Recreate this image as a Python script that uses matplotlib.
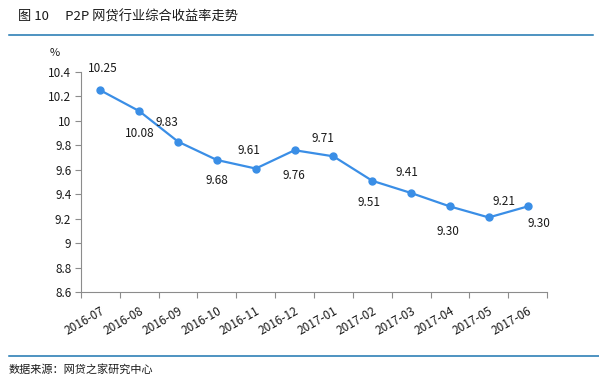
import matplotlib
matplotlib.use("Agg")
import matplotlib.pyplot as plt
from matplotlib.lines import Line2D
import numpy as np

plt.rcParams['font.family'] = ['Noto Sans CJK SC', 'DejaVu Sans']

# data
months = ['2016-07', '2016-08', '2016-09', '2016-10', '2016-11', '2016-12',
          '2017-01', '2017-02', '2017-03', '2017-04', '2017-05', '2017-06']
rates = [10.25, 10.08, 9.83, 9.68, 9.61, 9.76, 9.71, 9.51, 9.41, 9.30, 9.21, 9.30]
yticks = [8.6, 8.8, 9.0, 9.2, 9.4, 9.6, 9.8, 10.0, 10.2, 10.4]
ytick_labels = ['8.6', '8.8', '9', '9.2', '9.4', '9.6', '9.8', '10', '10.2', '10.4']

# label offsets in pixels (dx, dy), tuned by eye
label_off = [(2, 22), (0, -22), (-11, 19), (0, -21), (-7, 18), (-1, -25),
             (-10, 18), (-3, -22), (-4, 20), (-2, -25), (15, 16), (11, -17)]

W, H = 599, 382
fig = plt.figure(figsize=(W / 100, H / 100), dpi=100)
ax = fig.add_axes([81 / W, (H - 292) / H, (547 - 81) / W, (292 - 72) / H])

x = np.arange(len(months))
line_col = '#3A8EE6'
ax.plot(x, rates, color=line_col, lw=1.6, marker='o', ms=5, zorder=3)

for i, v in enumerate(rates):
    ax.annotate('%.2f' % v, (x[i], v), xytext=label_off[i], textcoords='offset pixels',
                ha='center', va='center', fontsize=8.5, color='#1a1a1a')

ax.set_xlim(-0.5, len(months) - 0.5)
ax.set_ylim(8.6, 10.4)
ax.set_yticks(yticks)
ax.set_yticklabels(ytick_labels)
ax.set_xticks(x)
ax.set_xticklabels(months, rotation=30, ha='right', rotation_mode='anchor')
ax.set_xticks(np.arange(-0.5, len(months)), minor=True)
ax.tick_params(axis='x', which='major', length=0, pad=9, labelsize=8.5, labelcolor='#1a1a1a')
ax.tick_params(axis='x', which='minor', length=4, color='#8c8c8c', width=0.8)
ax.tick_params(axis='y', length=4, color='#8c8c8c', width=0.8, labelsize=8.5,
               labelcolor='#1a1a1a', pad=3)

for s in ['top', 'right']:
    ax.spines[s].set_visible(False)
for s in ['left', 'bottom']:
    ax.spines[s].set_color('#8c8c8c')
    ax.spines[s].set_linewidth(0.8)

fig.text(55 / W, 1 - 53 / H, '%', fontsize=8, ha='center', va='center', color='#1a1a1a')

# title and source with blue rules
fig.text(18 / W, 1 - 17 / H, '图 10　 P2P 网贷行业综合收益率走势', fontsize=9.5,
         ha='left', va='center', color='#1a1a1a')
fig.add_artist(Line2D([9 / W, 593 / W], [1 - 35 / H, 1 - 35 / H], color='#1C75B0', lw=1.1))
fig.add_artist(Line2D([9 / W, 599 / W], [1 - 356 / H, 1 - 356 / H], color='#1C75B0', lw=1.1))
fig.text(9 / W, 1 - 369 / H, '数据来源：网贷之家研究中心', fontsize=8,
         ha='left', va='center', color='#1a1a1a')

plt.savefig('out.png', dpi=100)
